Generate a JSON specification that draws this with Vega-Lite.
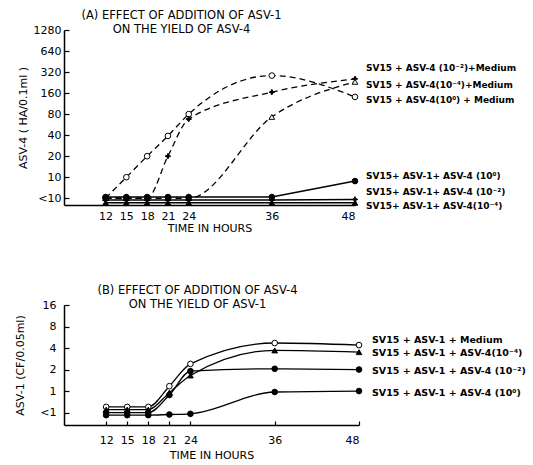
{
  "$schema": "https://vega.github.io/schema/vega-lite/v6.json",
  "padding": {"left": 14, "top": 9, "right": 0, "bottom": 0},
  "spacing": 51,
  "resolve": {"scale": {"shape": "independent", "fill": "independent"}},
  "config": {
    "font": "DejaVu Sans",
    "view": {"stroke": null},
    "axis": {"domain": true, "domainColor": "black", "tickColor": "black", "labelColor": "black", "titleColor": "black", "grid": false, "labelFont": "DejaVu Sans", "titleFont": "DejaVu Sans", "labelFontSize": 11, "titleFontSize": 11, "titleFontWeight": "normal", "domainWidth": 1.5, "tickWidth": 1.2},
    "title": {"font": "DejaVu Sans", "fontSize": 11.5, "fontWeight": "normal", "color": "black"}
  },
  "datasets": {
    "a": [
      {"series": "A0", "hour": 12, "value": 5}, {"series": "A0", "hour": 15, "value": 10}, {"series": "A0", "hour": 18, "value": 20}, {"series": "A0", "hour": 21, "value": 39}, {"series": "A0", "hour": 24, "value": 80}, {"series": "A0", "hour": 36, "value": 285}, {"series": "A0", "hour": 48, "value": 141},
      {"series": "A2", "hour": 12, "value": 5}, {"series": "A2", "hour": 15, "value": 5}, {"series": "A2", "hour": 18, "value": 5}, {"series": "A2", "hour": 21, "value": 20}, {"series": "A2", "hour": 24, "value": 68}, {"series": "A2", "hour": 36, "value": 165}, {"series": "A2", "hour": 48, "value": 256},
      {"series": "A4", "hour": 12, "value": 5}, {"series": "A4", "hour": 15, "value": 5}, {"series": "A4", "hour": 18, "value": 5}, {"series": "A4", "hour": 21, "value": 5}, {"series": "A4", "hour": 24, "value": 5}, {"series": "A4", "hour": 36, "value": 73}, {"series": "A4", "hour": 48, "value": 232},
      {"series": "B0", "hour": 12, "value": 5.2}, {"series": "B0", "hour": 15, "value": 5.2}, {"series": "B0", "hour": 18, "value": 5.2}, {"series": "B0", "hour": 21, "value": 5.2}, {"series": "B0", "hour": 24, "value": 5.2}, {"series": "B0", "hour": 36, "value": 5.2}, {"series": "B0", "hour": 48, "value": 8.8},
      {"series": "B2", "hour": 12, "value": 4.7}, {"series": "B2", "hour": 15, "value": 4.7}, {"series": "B2", "hour": 18, "value": 4.7}, {"series": "B2", "hour": 21, "value": 4.7}, {"series": "B2", "hour": 24, "value": 4.7}, {"series": "B2", "hour": 36, "value": 4.7}, {"series": "B2", "hour": 48, "value": 4.8},
      {"series": "B4", "hour": 12, "value": 4.3}, {"series": "B4", "hour": 15, "value": 4.3}, {"series": "B4", "hour": 18, "value": 4.3}, {"series": "B4", "hour": 21, "value": 4.3}, {"series": "B4", "hour": 24, "value": 4.3}, {"series": "B4", "hour": 36, "value": 4.3}, {"series": "B4", "hour": 48, "value": 4.3}
    ],
    "alabels": [
      {"label": "SV15 + ASV-4 (10⁻²)+Medium", "hour": 48, "value": 370},
      {"label": "SV15 + ASV-4(10⁻⁴)+Medium", "hour": 48, "value": 212},
      {"label": "SV15 + ASV-4(10⁰) + Medium", "hour": 48, "value": 128},
      {"label": "SV15+ ASV-1+ ASV-4 (10⁰)", "hour": 48, "value": 10.4},
      {"label": "SV15+ ASV-1+ ASV-4 (10⁻²)", "hour": 48, "value": 6.1},
      {"label": "SV15+ ASV-1+ ASV-4(10⁻⁴)", "hour": 48, "value": 3.9}
    ],
    "b": [
      {"series": "M", "hour": 12, "value": 0.6}, {"series": "M", "hour": 15, "value": 0.6}, {"series": "M", "hour": 18, "value": 0.6}, {"series": "M", "hour": 21, "value": 1.17}, {"series": "M", "hour": 24, "value": 2.4}, {"series": "M", "hour": 36, "value": 4.7}, {"series": "M", "hour": 48, "value": 4.4},
      {"series": "E4", "hour": 12, "value": 0.55}, {"series": "E4", "hour": 15, "value": 0.55}, {"series": "E4", "hour": 18, "value": 0.55}, {"series": "E4", "hour": 21, "value": 0.95}, {"series": "E4", "hour": 24, "value": 1.65}, {"series": "E4", "hour": 36, "value": 3.7}, {"series": "E4", "hour": 48, "value": 3.5},
      {"series": "E2", "hour": 12, "value": 0.5}, {"series": "E2", "hour": 15, "value": 0.5}, {"series": "E2", "hour": 18, "value": 0.5}, {"series": "E2", "hour": 21, "value": 0.88}, {"series": "E2", "hour": 24, "value": 1.9}, {"series": "E2", "hour": 36, "value": 2.05}, {"series": "E2", "hour": 48, "value": 2.0},
      {"series": "E0", "hour": 12, "value": 0.46}, {"series": "E0", "hour": 15, "value": 0.46}, {"series": "E0", "hour": 18, "value": 0.46}, {"series": "E0", "hour": 21, "value": 0.47}, {"series": "E0", "hour": 24, "value": 0.48}, {"series": "E0", "hour": 36, "value": 0.97}, {"series": "E0", "hour": 48, "value": 1.0}
    ],
    "blabels": [
      {"label": "SV15 + ASV-1 + Medium", "hour": 48, "value": 5.2},
      {"label": "SV15 + ASV-1 + ASV-4(10⁻⁴)", "hour": 48, "value": 3.4},
      {"label": "SV15 + ASV-1 + ASV-4 (10⁻²)", "hour": 48, "value": 1.9},
      {"label": "SV15 + ASV-1 + ASV-4 (10⁰)", "hour": 48, "value": 0.94}
    ]
  },
  "vconcat": [
    {
      "width": 291,
      "height": 175,
      "title": {"text": ["(A) EFFECT OF ADDITION OF ASV-1", "ON THE YIELD OF ASV-4"], "anchor": "middle", "dx": -28, "offset": -11, "lineHeight": 14},
      "encoding": {
        "x": {"field": "hour", "type": "quantitative", "scale": {"domain": [6, 48], "nice": false, "zero": false}, "axis": {"values": [12, 15, 18, 21, 24, 36, 48], "title": "TIME IN HOURS", "tickSize": -4, "labelPadding": 9, "titlePadding": 1}},
        "y": {"field": "value", "type": "quantitative", "scale": {"type": "log", "base": 2, "domain": [4, 1280], "nice": false}, "axis": {"values": [5, 10, 20, 40, 80, 160, 320, 640, 1280], "labelExpr": "datum.value == 5 ? '<10' : datum.label", "format": "d", "title": "ASV-4 ( HA/0.1ml )", "tickSize": -5, "labelPadding": 8, "titlePadding": 5}}
      },
      "layer": [
        {
          "data": {"name": "a"},
          "transform": [{"filter": "indexof(['A0','A2','A4'], datum.series) >= 0"}],
          "mark": {"type": "line", "interpolate": "monotone", "color": "black", "strokeWidth": 1.3, "strokeDash": [6, 4]},
          "encoding": {"detail": {"field": "series"}}
        },
        {
          "data": {"name": "a"},
          "transform": [{"filter": "indexof(['B0','B2','B4'], datum.series) >= 0"}],
          "mark": {"type": "line", "color": "black", "strokeWidth": 1.5},
          "encoding": {"detail": {"field": "series"}}
        },
        {
          "data": {"name": "a"},
          "mark": {"type": "point", "size": 32, "stroke": "black", "strokeWidth": 1, "opacity": 1},
          "encoding": {
            "shape": {"field": "series", "type": "nominal", "scale": {"domain": ["A0", "A2", "A4", "B0", "B2", "B4"], "range": ["circle", "M0,-1L0.3,-0.3L1,0L0.3,0.3L0,1L-0.3,0.3L-1,0L-0.3,-0.3Z", "triangle-up", "circle", "M0,-1L0.3,-0.3L1,0L0.3,0.3L0,1L-0.3,0.3L-1,0L-0.3,-0.3Z", "triangle-up"]}, "legend": null},
            "fill": {"field": "series", "type": "nominal", "scale": {"domain": ["A0", "A2", "A4", "B0", "B2", "B4"], "range": ["white", "black", "white", "black", "black", "black"]}, "legend": null}
          }
        },
        {
          "data": {"name": "alabels"},
          "mark": {"type": "text", "align": "left", "baseline": "middle", "dx": 11, "fontSize": 9, "fontWeight": "bold", "color": "black"},
          "encoding": {"text": {"field": "label"}}
        }
      ]
    },
    {
      "width": 295,
      "height": 120,
      "title": {"text": ["(B) EFFECT OF ADDITION OF ASV-4", "ON THE YIELD OF ASV-1"], "anchor": "middle", "dx": -14, "offset": -11, "lineHeight": 14},
      "encoding": {
        "x": {"field": "hour", "type": "quantitative", "scale": {"domain": [6, 48], "nice": false, "zero": false}, "axis": {"values": [12, 15, 18, 21, 24, 36, 48], "title": "TIME IN HOURS", "tickSize": -4, "labelPadding": 13, "titlePadding": 4}},
        "y": {"field": "value", "type": "quantitative", "scale": {"type": "log", "base": 2, "domain": [0.335, 16], "nice": false}, "axis": {"values": [0.5, 1, 2, 4, 8, 16], "labelExpr": "datum.value == 0.5 ? '<1' : datum.label", "format": "d", "title": "ASV-1 (CF/0.05ml)", "tickSize": -5, "labelPadding": 13, "titlePadding": 14}}
      },
      "layer": [
        {
          "data": {"name": "b"},
          "mark": {"type": "line", "interpolate": "monotone", "color": "black", "strokeWidth": 1.3},
          "encoding": {"detail": {"field": "series"}}
        },
        {
          "data": {"name": "b"},
          "mark": {"type": "point", "size": 32, "stroke": "black", "strokeWidth": 1, "opacity": 1},
          "encoding": {
            "shape": {"field": "series", "type": "nominal", "scale": {"domain": ["M", "E4", "E2", "E0"], "range": ["circle", "triangle-up", "circle", "circle"]}, "legend": null},
            "fill": {"field": "series", "type": "nominal", "scale": {"domain": ["M", "E4", "E2", "E0"], "range": ["white", "black", "black", "black"]}, "legend": null}
          }
        },
        {
          "data": {"name": "blabels"},
          "mark": {"type": "text", "align": "left", "baseline": "middle", "dx": 13, "fontSize": 9.5, "fontWeight": "bold", "color": "black"},
          "encoding": {"text": {"field": "label"}}
        }
      ]
    }
  ]
}
